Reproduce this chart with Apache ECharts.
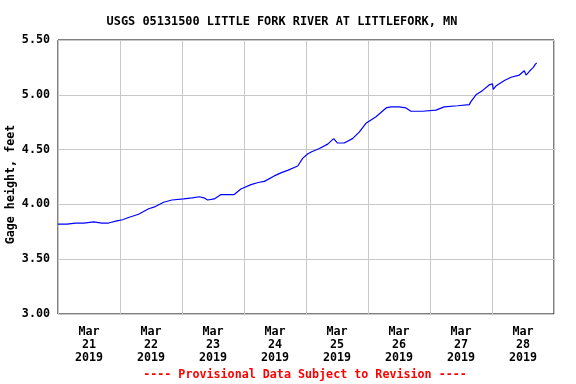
<!DOCTYPE html>
<html>
<head>
<meta charset="utf-8">
<script src="https://cdn.jsdelivr.net/npm/echarts@6/dist/echarts.min.js"></script>
<style>html,body{margin:0;padding:0;background:#fff}#c{width:576px;height:384px}</style>
</head>
<body>
<div id="c"></div>
<script>
// hours since 2019-03-21 00:00
const hours = [0, 3.5, 6.7, 10, 13.8, 17, 19.6, 22.8, 25, 27.3, 31.2, 35.1, 37.7, 40.9, 44.1, 48.6, 52, 54.7, 56.5, 57.9, 60.5, 63.1, 66, 68.2, 70.8, 74.7, 77.5, 79.9, 83.7, 86.5, 88.9, 92.8, 94.7, 96.6, 98.2, 101.2, 104.4, 106.7, 108.2, 110.8, 114.0, 116.6, 119.2, 123.1, 127.0, 128.9, 132, 134.7, 136.6, 141.1, 146.3, 149.5, 154.7, 159.2, 159.9, 161.8, 164.4, 166.9, 168.2, 168.5, 169.5, 172.8, 175.4, 178.6, 180.5, 181.2, 183.1, 184.0, 184.8, 185.3];
const gage = [3.82, 3.82, 3.83, 3.83, 3.84, 3.83, 3.83, 3.85, 3.86, 3.88, 3.91, 3.96, 3.98, 4.02, 4.04, 4.05, 4.06, 4.07, 4.06, 4.04, 4.05, 4.09, 4.09, 4.09, 4.14, 4.18, 4.20, 4.21, 4.26, 4.29, 4.31, 4.35, 4.42, 4.46, 4.48, 4.51, 4.55, 4.60, 4.56, 4.56, 4.60, 4.66, 4.74, 4.80, 4.88, 4.89, 4.89, 4.88, 4.85, 4.85, 4.86, 4.89, 4.90, 4.91, 4.94, 5.00, 5.04, 5.09, 5.10, 5.05, 5.08, 5.13, 5.16, 5.18, 5.22, 5.18, 5.23, 5.25, 5.28, 5.29];
const dayLabels = ['Mar\n21\n2019', 'Mar\n22\n2019', 'Mar\n23\n2019', 'Mar\n24\n2019', 'Mar\n25\n2019', 'Mar\n26\n2019', 'Mar\n27\n2019', 'Mar\n28\n2019'];
const yTicks = [3.0, 3.5, 4.0, 4.5, 5.0, 5.5];
const titleText = 'USGS 05131500 LITTLE FORK RIVER AT LITTLEFORK, MN';
const yName = 'Gage height, feet';
const footer = '---- Provisional Data Subject to Revision ----';

const FONT = '"DejaVu Sans Mono", monospace';
const chart = echarts.init(document.getElementById('c'), null, {renderer: 'canvas'});
const data = hours.map((h, i) => [h, gage[i]]);
chart.setOption({
  animation: false,
  backgroundColor: '#fff',
  title: {
    text: titleText, left: 277, top: 11, textAlign: 'center',
    textStyle: {fontFamily: FONT, fontSize: 11.9, fontWeight: 'bold', color: '#000'}
  },
  grid: {left: 58, right: 22, top: 40, bottom: 70, show: true, borderColor: '#000', borderWidth: 1, backgroundColor: '#fff', containLabel: false},
  xAxis: [{
    type: 'value', min: 0, max: 192, interval: 24, position: 'bottom',
    axisLine: {show: false}, axisTick: {show: false}, axisLabel: {show: false},
    splitLine: {show: true, lineStyle: {color: '#c8c8c8', width: 1}}
  }, {
    type: 'value', min: 0, max: 192, interval: 12, position: 'bottom', offset: 0,
    axisLine: {show: false}, axisTick: {show: false}, splitLine: {show: false},
    axisLabel: {
      show: true, margin: 11, lineHeight: 13, color: '#000',
      fontFamily: FONT, fontSize: 11.7, fontWeight: 'bold',
      formatter: v => (v % 24 === 12 ? dayLabels[(v - 12) / 24] : '')
    }
  }],
  yAxis: {
    type: 'value', min: yTicks[0], max: yTicks[yTicks.length - 1], interval: 0.5,
    axisLine: {show: false}, axisTick: {show: false},
    axisLabel: {margin: 8, color: '#000', fontFamily: FONT, fontSize: 11.7, fontWeight: 'bold', formatter: v => v.toFixed(2)},
    splitLine: {show: true, lineStyle: {color: '#c8c8c8', width: 1}}
  },
  graphic: [{
    type: 'text', x: 10.5, y: 184.5, rotation: Math.PI / 2,
    style: {text: yName, fill: '#000', font: 'bold 11.7px ' + FONT, textAlign: 'center', textVerticalAlign: 'middle'}
  }, {
    type: 'text', x: 305, y: 375,
    style: {text: footer, fill: '#ff0000', font: 'bold 11.7px ' + FONT, textAlign: 'center', textVerticalAlign: 'middle'}
  }],
  series: [{
    type: 'line', xAxisIndex: 0, data: data, showSymbol: false, symbol: 'none',
    lineStyle: {color: '#0000ff', width: 1.2}, smooth: false
  }]
});
</script>
</body>
</html>
